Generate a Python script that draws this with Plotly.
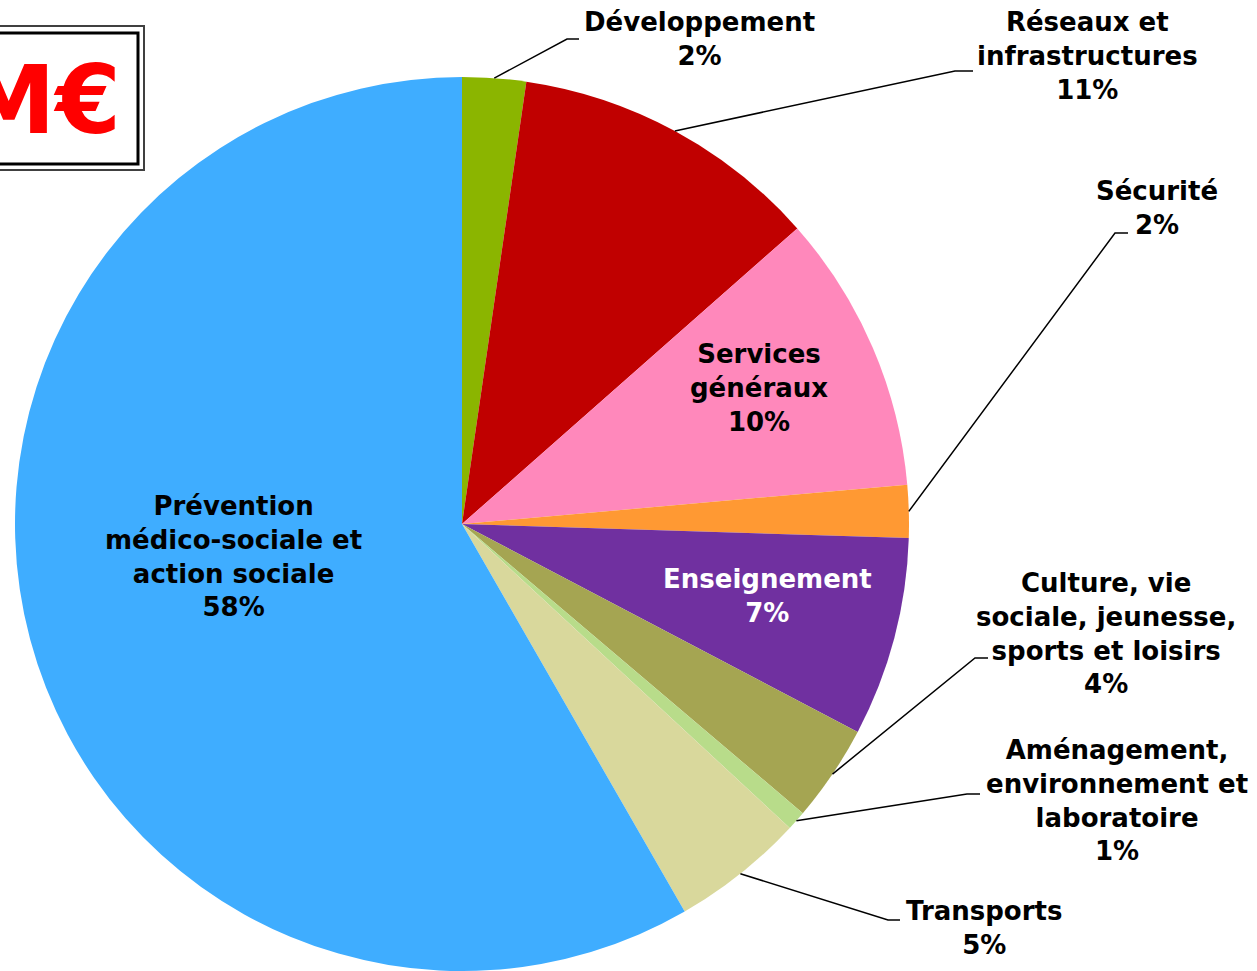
import math
import plotly.graph_objects as go

W, H = 1257, 971

# data (clockwise from 12 o'clock)
labels = ["Développement", "Réseaux et<br>infrastructures", "Services<br>généraux", "Sécurité",
          "Enseignement", "Culture, vie<br>sociale, jeunesse,<br>sports et loisirs",
          "Aménagement,<br>environnement et<br>laboratoire", "Transports",
          "Prévention<br>médico-sociale et<br>action sociale"]
values = [2.3, 11.2, 10.1, 1.9, 7.2, 3.5, 0.7, 4.8, 58.3]
colors = ["#8BB500", "#C00000", "#FF88BB", "#FF9933", "#7030A0",
          "#A5A552", "#B8DC8A", "#D9D89C", "#3FADFF"]

# label placement (pixel centre of text block), text colour, leader elbow (None = inside)
label_pos = [(699, 39), (1087, 56), (759, 388), (1157, 208), (767, 596),
             (1106, 633), (1117, 800), (984, 928), (233, 556)]
label_col = ["black", "black", "black", "black", "white", "black", "black", "black", "black"]
elbows = [((567, 39), (579, 39)), ((955, 71), (973, 71)), None, ((1115, 233), (1128, 233)), None,
          ((975, 658), (988, 658)), ((967, 794), (980, 794)), ((888, 920), (900, 920)), None]

cx, cy, r = 462, 524, 447


def px(x, y):
    return x / W, 1 - y / H


fig = go.Figure(go.Pie(
    labels=labels, values=values, sort=False, direction="clockwise", rotation=0,
    marker=dict(colors=colors, line=dict(width=0)),
    textinfo="none", showlegend=False, hoverinfo="label+percent",
    domain=dict(x=[(cx - r) / W, (cx + r) / W], y=[max(0, (H - cy - r) / H), (H - cy + r) / H]),
))

font = dict(family="DejaVu Sans, Verdana, sans-serif", size=26, weight="bold")

total = sum(values)
cum = 0
for lab, v, pos, col, elb in zip(labels, values, label_pos, label_col, elbows):
    mid = (cum + v / 2) / total * 2 * math.pi
    cum += v
    x, y = px(*pos)
    fig.add_annotation(x=x, y=y, xref="paper", yref="paper", showarrow=False,
                       xanchor="center", yanchor="middle",
                       text=f"{lab}<br>{v:.0f}%", align="center",
                       font=dict(font, color=col))
    if elb:
        sx, sy = cx + r * math.sin(mid), cy - r * math.cos(mid)
        pts = [px(sx, sy), px(*elb[0]), px(*elb[1])]
        path = "M " + " L ".join(f"{a},{b}" for a, b in pts)
        fig.add_shape(type="path", path=path, xref="paper", yref="paper",
                      line=dict(color="black", width=1.5))

# framed total box, top left (cut by the edge)
x0, y0 = px(-10, 26)
x1, y1 = px(144, 170)
fig.add_shape(type="rect", x0=x0, y0=y0, x1=x1, y1=y1, xref="paper", yref="paper",
              line=dict(color="#404040", width=2), fillcolor="white")
x0, y0 = px(-10, 33)
x1, y1 = px(138, 164)
fig.add_shape(type="rect", x0=x0, y0=y0, x1=x1, y1=y1, xref="paper", yref="paper",
              line=dict(color="black", width=3))
tx, ty = px(123, 100)
fig.add_annotation(x=tx, y=ty, xref="paper", yref="paper", showarrow=False,
                   xanchor="right", yanchor="middle", text="M€",
                   font=dict(family="DejaVu Sans, Verdana, sans-serif", size=94,
                             weight="bold", color="#FF0000"))

fig.update_layout(width=W, height=H, margin=dict(l=0, r=0, t=0, b=0),
                  paper_bgcolor="white", plot_bgcolor="white")

fig.write_html("out.html", config={"displayModeBar": False},
               post_script="document.body.style.margin='0';")
